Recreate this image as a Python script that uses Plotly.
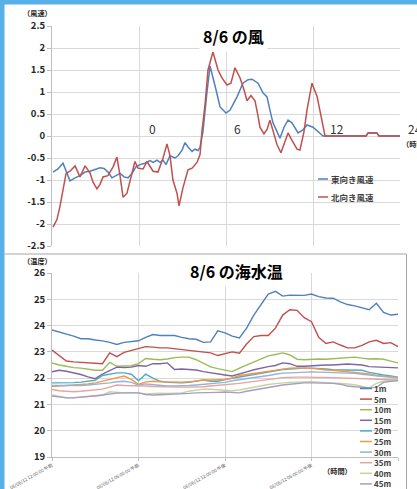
import plotly.graph_objects as go

W, H = 417, 489

# ---------------- wind (top chart) ----------------
wind_names = ["東向き風速", "北向き風速"]
wind_colors = ["#4F81BD", "#C0504D"]

east_hours = [0.07, 0.41, 0.76, 0.97, 1.24, 1.59, 1.93, 2.28, 2.62, 2.97, 3.31, 3.59, 3.86, 4.14,
              4.41, 4.69, 4.97, 5.24, 5.52, 5.79, 6.07, 6.41, 6.76, 6.97, 7.24, 7.45, 7.66, 7.86,
              8.14, 8.48, 8.69, 8.97, 9.17, 9.38, 9.66, 9.86, 10.07, 10.21, 10.41, 10.55, 10.69,
              10.9, 11.1, 11.31, 11.59, 12.0, 12.28, 12.76, 13.17, 13.52, 13.79, 14.21, 14.55,
              14.83, 15.03, 15.24, 15.52, 15.72, 16.0, 16.28, 16.55, 16.97, 17.31, 17.59, 18.0,
              18.34, 18.69, 21.66, 21.8, 22.4, 22.55, 24.0]
east_speed = [-0.82, -0.75, -0.62, -0.8, -1.02, -0.95, -0.9, -0.82, -0.8, -0.76, -0.72, -0.74,
              -0.82, -0.95, -0.9, -0.85, -0.93, -0.95, -0.85, -0.7, -0.65, -0.62, -0.56, -0.6,
              -0.55, -0.6, -0.55, -0.65, -0.45, -0.5, -0.45, -0.32, -0.15, -0.25, -0.35, -0.3,
              -0.33, -0.25, 0.1, 0.6, 1.0, 1.59, 1.35, 1.05, 0.66, 0.52, 0.59, 0.89, 1.2, 1.28,
              1.29, 1.2, 0.98, 0.89, 0.59, 0.3, 0.1, -0.05, 0.2, 0.36, 0.3, 0.07, 0.14, 0.25,
              0.2, 0.1, 0.0, 0.0, 0.07, 0.07, 0.0, 0.0]

north_hours = [0.07, 0.34, 0.55, 0.76, 0.97, 1.24, 1.59, 1.93, 2.28, 2.62, 2.83, 3.1, 3.31, 3.52,
               3.86, 4.21, 4.48, 4.69, 4.9, 5.17, 5.45, 5.72, 5.93, 6.28, 6.55, 6.76, 6.97, 7.31,
               7.66, 7.93, 8.14, 8.34, 8.62, 8.76, 9.03, 9.38, 9.66, 10.0, 10.21, 10.34, 10.55,
               10.76, 11.1, 11.45, 11.72, 12.07, 12.34, 12.62, 12.97, 13.24, 13.45, 13.72, 14.0,
               14.21, 14.34, 14.62, 14.83, 15.03, 15.24, 15.52, 15.79, 16.07, 16.28, 16.55, 16.9,
               17.1, 17.38, 17.59, 17.93, 18.28, 18.55, 18.69, 18.83, 21.66, 21.8, 22.4, 22.55, 24.0]
north_speed = [-2.07, -1.9, -1.6, -1.23, -0.85, -0.8, -0.68, -0.93, -0.68, -0.84, -1.05, -1.2,
               -1.1, -0.93, -0.9, -0.7, -0.48, -0.9, -1.39, -1.3, -0.9, -0.58, -0.73, -0.75,
               -0.58, -0.7, -0.8, -0.82, -0.5, -0.18, -0.45, -1.0, -1.3, -1.59, -1.18, -0.77,
               -0.73, -0.6, -0.42, 0.1, 0.7, 1.5, 1.91, 1.5, 1.32, 1.16, 1.2, 1.55, 1.32, 1.05,
               0.8, 0.92, 0.8, 0.45, 0.2, 0.05, 0.15, 0.36, 0.1, -0.2, -0.38, -0.1, 0.07, -0.1,
               -0.3, -0.32, 0.1, 0.6, 1.2, 0.9, 0.45, 0.2, 0.0, 0.0, 0.07, 0.07, 0.0, 0.0]

wind_grid_hours = [0, 6, 12, 18, 24]
wind_hour_labels = ["0", "6", "12", "24"]
wind_ytick_vals = [2.5, 2, 1.5, 1, 0.5, 0, -0.5, -1, -1.5, -2, -2.5]
wind_ytick_text = ["2.5", "2", "1.5", "1", "0.5", "0", "-0.5", "-1", "-1.5", "-2", "-2.5"]

# ---------------- sea temperature (bottom chart) ----------------
temp_hours = [0, 0.5, 1, 1.5, 2, 2.5, 3, 3.5, 4, 4.5, 5, 5.5, 6, 6.5, 7, 7.5, 8, 8.5, 9, 9.5,
              10, 10.5, 11, 11.5, 12, 12.5, 13, 13.5, 14, 14.5, 15, 15.5, 16, 16.5, 17, 17.5,
              18, 18.5, 19, 19.5, 20, 20.5, 21, 21.5, 22, 22.5, 23, 23.5, 24]
depth_names = ["1m", "5m", "10m", "15m", "20m", "25m", "30m", "35m", "40m", "45m"]
depth_colors = ["#4F81BD", "#C0504D", "#9BBB59", "#8064A2", "#4BACC6",
                "#F79646", "#95B3D7", "#E6A3A1", "#C3D69B", "#A99BC4"]

t1m = [23.83, 23.75, 23.7, 23.6, 23.5, 23.5, 23.45, 23.42, 23.36, 23.28, 23.36, 23.38, 23.42,
       23.55, 23.66, 23.62, 23.62, 23.62, 23.55, 23.5, 23.48, 23.36, 23.38, 23.8, 23.72, 23.6,
       23.53, 23.9, 24.4, 24.8, 25.2, 25.3, 25.12, 25.16, 25.15, 25.15, 25.2, 25.1, 25.05,
       25.04, 24.9, 24.8, 24.75, 24.67, 24.6, 24.85, 24.5, 24.4, 24.43]
t5m = [23.07, 22.85, 22.65, 22.62, 22.6, 22.58, 22.56, 22.55, 22.96, 22.82, 22.98, 23.05, 23.12,
       23.2, 23.18, 23.15, 23.15, 23.12, 23.08, 23.07, 23.04, 23.0, 22.96, 22.86, 22.94, 23.0,
       22.95, 23.3, 23.58, 23.62, 23.62, 23.9, 24.4, 24.6, 24.58, 24.3, 24.15, 23.55, 23.32,
       23.38, 23.26, 23.15, 23.15, 23.25, 23.38, 23.44, 23.32, 23.35, 23.2]
t10m = [22.58, 22.5, 22.45, 22.4, 22.38, 22.35, 22.3, 22.3, 22.6, 22.45, 22.45, 22.47, 22.55,
        22.75, 22.72, 22.7, 22.73, 22.78, 22.8, 22.8, 22.7, 22.55, 22.43, 22.36, 22.3, 22.25,
        22.38, 22.5, 22.62, 22.72, 22.85, 22.9, 22.96, 22.88, 22.72, 22.7, 22.72, 22.73, 22.72,
        22.74, 22.76, 22.8, 22.8, 22.76, 22.73, 22.74, 22.72, 22.65, 22.58]
t15m = [22.24, 22.3, 22.26, 22.2, 22.14, 22.05, 21.98, 22.15, 22.3, 22.42, 22.4, 22.42, 22.48,
        22.45, 22.55, 22.55, 22.58, 22.33, 22.35, 22.33, 22.31, 22.25, 22.2, 22.15, 22.12, 22.08,
        22.15, 22.24, 22.32, 22.39, 22.44, 22.48, 22.58, 22.55, 22.45, 22.45, 22.47, 22.5, 22.5,
        22.5, 22.52, 22.54, 22.52, 22.5, 22.44, 22.43, 22.42, 22.4, 22.39]
t20m = [21.82, 21.82, 21.82, 21.83, 21.85, 21.88, 21.92, 22.1, 22.15, 22.2, 22.2, 22.15, 21.9,
        22.15, 22.0, 21.88, 21.84, 21.82, 21.82, 21.84, 21.88, 21.93, 21.88, 21.88, 21.95, 22.0,
        22.05, 22.1, 22.15, 22.2, 22.24, 22.28, 22.33, 22.35, 22.37, 22.38, 22.38, 22.37, 22.35,
        22.32, 22.31, 22.31, 22.31, 22.3, 22.22, 22.16, 22.12, 22.08, 22.04]
t25m = [21.68, 21.7, 21.71, 21.73, 21.76, 21.78, 21.82, 21.88, 21.95, 22.02, 22.08, 21.95, 21.76,
        21.86, 21.88, 21.86, 21.85, 21.84, 21.85, 21.86, 21.9, 21.93, 21.93, 21.95, 21.95, 22.0,
        22.1, 22.14, 22.18, 22.24, 22.27, 22.32, 22.36, 22.38, 22.39, 22.39, 22.37, 22.35, 22.31,
        22.3, 22.27, 22.25, 22.22, 22.2, 22.16, 22.1, 22.07, 22.05, 22.03]
t30m = [21.72, 21.72, 21.7, 21.7, 21.72, 21.74, 21.76, 21.78, 21.82, 21.86, 21.88, 21.84, 21.74,
        21.78, 21.75, 21.73, 21.7, 21.7, 21.7, 21.72, 21.74, 21.76, 21.78, 21.8, 21.84, 21.9,
        21.94, 21.97, 22.0, 22.06, 22.1, 22.15, 22.19, 22.2, 22.22, 22.24, 22.24, 22.23, 22.22,
        22.2, 22.2, 22.2, 22.18, 22.15, 22.12, 22.08, 22.05, 22.02, 22.0]
t35m = [21.57, 21.52, 21.5, 21.48, 21.5, 21.52, 21.54, 21.58, 21.66, 21.74, 21.72, 21.72, 21.7,
        21.7, 21.68, 21.67, 21.67, 21.66, 21.66, 21.66, 21.66, 21.67, 21.7, 21.72, 21.74, 21.76,
        21.8, 21.84, 21.87, 21.9, 21.94, 21.98, 22.02, 22.04, 22.04, 22.04, 22.04, 22.03, 22.02,
        22.02, 22.01, 22.0, 22.0, 21.98, 21.96, 21.95, 21.94, 21.94, 21.95]
t40m = [21.36, 21.3, 21.26, 21.26, 21.27, 21.3, 21.32, 21.35, 21.48, 21.45, 21.44, 21.45, 21.44,
        21.4, 21.42, 21.43, 21.42, 21.44, 21.44, 21.5, 21.55, 21.58, 21.58, 21.56, 21.55, 21.52,
        21.55, 21.6, 21.67, 21.72, 21.76, 21.79, 21.82, 21.84, 21.85, 21.86, 21.86, 21.85, 21.84,
        21.83, 21.8, 21.78, 21.75, 21.68, 21.63, 21.8, 21.88, 21.92, 21.93]
t45m = [21.32, 21.28, 21.25, 21.25, 21.27, 21.3, 21.33, 21.36, 21.4, 21.43, 21.44, 21.45, 21.44,
        21.38, 21.36, 21.37, 21.38, 21.38, 21.4, 21.42, 21.44, 21.44, 21.45, 21.46, 21.47, 21.46,
        21.44, 21.5, 21.55, 21.6, 21.66, 21.7, 21.74, 21.77, 21.8, 21.82, 21.82, 21.82, 21.82,
        21.8, 21.77, 21.7, 21.67, 21.64, 21.63, 21.65, 21.84, 21.88, 21.9]
temp_series = [t1m, t5m, t10m, t15m, t20m, t25m, t30m, t35m, t40m, t45m]

temp_grid_hours = [0, 6, 12, 18, 24]
temp_xtick_text = ["08/06/12 12:00:00 午前", "08/06/12 06:00:00 午前",
                   "08/06/12 12:00:00 午後", "08/06/12 06:00:00 午後", ""]
temp_ytick_vals = [19, 20, 21, 22, 23, 24, 25, 26]
temp_ytick_text = ["19", "20", "21", "22", "23", "24", "25", "26"]


# ---------------- helpers (pixel -> paper) ----------------
def px(x):
    return x / W


def py(y):
    return 1 - y / H


FONT = "Noto Sans CJK JP"
GRID = "#D9D9D9"
AXIS = "#BFBFBF"
TXT = "#262626"

fig = go.Figure()

fig.add_trace(go.Scatter(x=east_hours, y=east_speed, mode="lines", name=wind_names[0],
                         line=dict(color=wind_colors[0], width=1.5), xaxis="x", yaxis="y",
                         showlegend=False))
fig.add_trace(go.Scatter(x=north_hours, y=north_speed, mode="lines", name=wind_names[1],
                         line=dict(color=wind_colors[1], width=1.5), xaxis="x", yaxis="y",
                         showlegend=False))

for name, col, vals in zip(depth_names, depth_colors, temp_series):
    fig.add_trace(go.Scatter(x=temp_hours, y=vals, mode="lines", name=name,
                             line=dict(color=col, width=1.4), xaxis="x2", yaxis="y2",
                             showlegend=False))

tickfont = dict(family=FONT, size=9.5, color=TXT, weight="bold")

fig.update_layout(
    width=W, height=H, margin=dict(l=0, r=0, t=0, b=0, autoexpand=False),
    paper_bgcolor="white", plot_bgcolor="white",
    font=dict(family=FONT, color=TXT),
    xaxis=dict(domain=[px(52), px(400)], anchor="y", range=[0, 24], automargin=False,
               tickvals=wind_grid_hours, showticklabels=False, showgrid=True,
               gridcolor=GRID, gridwidth=1, zeroline=False, showline=False, ticks=""),
    yaxis=dict(domain=[py(246), py(26)], anchor="x", range=[-2.5, 2.5], automargin=False,
               tickvals=wind_ytick_vals, ticktext=wind_ytick_text, tickfont=tickfont,
               showgrid=True, gridcolor=GRID, zeroline=False, showline=True,
               linecolor=AXIS, ticks="outside", ticklen=4, tickcolor=AXIS),
    xaxis2=dict(domain=[px(52), px(398)], anchor="y2", range=[0, 24], automargin=False,
                tickvals=temp_grid_hours, ticktext=temp_xtick_text, tickangle=-29,
                tickfont=dict(family=FONT, size=4.6, color="#595959"),
                showgrid=True, gridcolor=GRID, zeroline=False, showline=True,
                linecolor=AXIS, ticks="outside", ticklen=3, tickcolor=AXIS),
    yaxis2=dict(domain=[py(457), py(273)], anchor="x2", range=[19, 26], automargin=False,
                tickvals=temp_ytick_vals, ticktext=temp_ytick_text, tickfont=tickfont,
                showgrid=True, gridcolor=GRID, zeroline=False, showline=True,
                linecolor=AXIS, ticks="outside", ticklen=4, tickcolor=AXIS),
)

shapes = []
annotations = []


def note(text, x, y, font, xanchor="center", yanchor="middle", **kw):
    annotations.append(dict(text=text, xref="paper", yref="paper", x=px(x), y=py(y),
                            xanchor=xanchor, yanchor=yanchor, showarrow=False, font=font, **kw))


# frame: blue strips and bottom panel border
shapes.append(dict(type="rect", xref="paper", yref="paper", x0=0, x1=px(4.5), y0=0, y1=1,
                   fillcolor="#58B0E8", line=dict(width=0), layer="above"))
shapes.append(dict(type="rect", xref="paper", yref="paper", x0=0, x1=1, y0=py(4.5), y1=1,
                   fillcolor="#58B0E8", line=dict(width=0), layer="above"))
shapes.append(dict(type="line", xref="paper", yref="paper", x0=px(4.5), x1=px(406.5),
                   y0=py(254), y1=py(254), line=dict(color="#A6A6A6", width=1), layer="above"))
shapes.append(dict(type="line", xref="paper", yref="paper", x0=px(406.5), x1=px(406.5),
                   y0=0, y1=py(254), line=dict(color="#A6A6A6", width=1), layer="above"))

# titles
title_font = dict(family=FONT, size=16, color="black", weight="bold")
note("8/6 の風", 233, 36, title_font, bgcolor="white", borderpad=3)
note("8/6 の海水温", 236, 271, title_font, bgcolor="white", borderpad=3)

small = dict(family=FONT, size=7.2, color=TXT, weight="bold")
note("（風速）", 37, 13, small)
note("（温度）", 37, 261, small)
note("（時間）", 400, 144, small, xanchor="left")
note("（時間）", 337, 471, small)

# hour labels of the wind chart, sitting on the zero line beside the gridlines
label_shift = [8, 6, 15, 6]
for lab, gx, sh in zip(wind_hour_labels, wind_grid_hours[1:], label_shift):
    annotations.append(dict(text=lab, xref="x", yref="y", x=gx, y=0, xanchor="left",
                            yanchor="bottom", xshift=sh, yshift=-3, showarrow=False,
                            font=dict(family=FONT, size=12, color="#333333")))

# wind legend (white box over the grid)
shapes.append(dict(type="rect", xref="paper", yref="paper", x0=px(302), x1=px(393),
                   y0=py(207), y1=py(168), fillcolor="white", line=dict(width=0),
                   layer="between"))
leg_font1 = dict(family=FONT, size=8.5, color="#404040", weight="bold")
for i, (name, col) in enumerate(zip(wind_names, wind_colors)):
    yy = 179 + 18 * i
    shapes.append(dict(type="line", xref="paper", yref="paper", x0=px(318), x1=px(328),
                       y0=py(yy), y1=py(yy), line=dict(color=col, width=1.5)))
    note(name, 329, yy, leg_font1, xanchor="left")

# temperature legend
shapes.append(dict(type="rect", xref="paper", yref="paper", x0=px(356), x1=px(405),
                   y0=0, y1=py(384), fillcolor="white", line=dict(width=0), layer="between"))
leg_font2 = dict(family=FONT, size=8, color="#404040", weight="bold")
for i, (name, col) in enumerate(zip(depth_names, depth_colors)):
    yy = 388.5 + 10.6 * i
    shapes.append(dict(type="line", xref="paper", yref="paper", x0=px(360), x1=px(372),
                       y0=py(yy), y1=py(yy), line=dict(color=col, width=1.5)))
    note(name, 372, yy, leg_font2, xanchor="left")

fig.update_layout(shapes=shapes, annotations=annotations)

fig.write_html("out.html", config={"displayModeBar": False},
               post_script="document.body.style.margin='0';document.body.style.overflow='hidden';")
